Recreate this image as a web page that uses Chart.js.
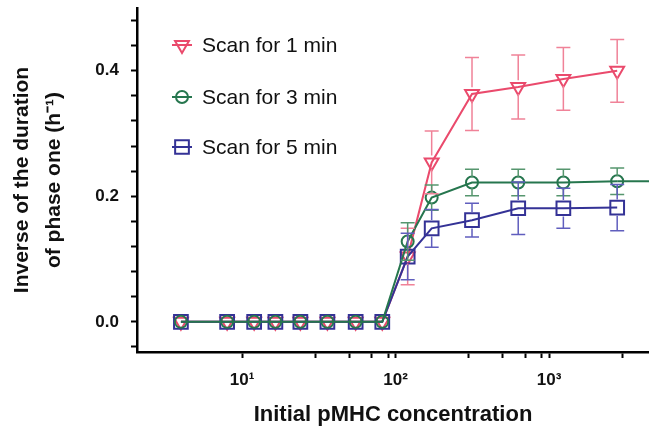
<!DOCTYPE html>
<html>
<head>
<meta charset="utf-8">
<script src="https://cdn.jsdelivr.net/npm/chart.js@4/dist/chart.umd.min.js"></script>
<style>
    html, body { margin: 0; padding: 0; background: #fff; }
    #chart { display: block; }
</style>
</head>
<body>
<canvas id="chart" width="649" height="434"></canvas>
<script>
// Initial pMHC concentration (x, log scale)
const concentrations = [4, 8, 12, 16.5, 24, 36, 55, 82, 120, 172, 315, 630, 1240, 2780];

// Inverse of the duration of phase one (h^-1), with error bars
const scan1min    = [0, 0, 0, 0, 0, 0, 0, 0, 0.104, 0.254, 0.363, 0.374, 0.387, 0.400];
const scan1minErr = [0, 0, 0, 0, 0, 0, 0, 0, 0.045, 0.050, 0.058, 0.051, 0.050, 0.050];
const scan3min    = [0, 0, 0, 0, 0, 0, 0, 0, 0.128, 0.198, 0.222, 0.222, 0.222, 0.224];
const scan3minErr = [0, 0, 0, 0, 0, 0, 0, 0, 0.030, 0.020, 0.021, 0.021, 0.021, 0.021];
const scan5min    = [0, 0, 0, 0, 0, 0, 0, 0, 0.104, 0.149, 0.162, 0.181, 0.181, 0.182];
const scan5minErr = [0, 0, 0, 0, 0, 0, 0, 0, 0.037, 0.030, 0.027, 0.042, 0.032, 0.037];

// green curve keeps going past the last point to the edge of the axis
const scan3minTailX = [2780, 4480];
const scan3minTailY = [0.224, 0.224];

const seriesNames = ['Scan for 1 min', 'Scan for 3 min', 'Scan for 5 min'];

// tick labels
const xMajorTicks = [10, 100, 1000];
const xMajorLabels = ['10¹', '10²', '10³'];
const xMinorTicks = [30, 50, 70, 90, 300, 500, 700, 900, 3000];
const yTicks = [-0.04, 0, 0.04, 0.08, 0.12, 0.16, 0.2, 0.24, 0.28, 0.32, 0.36, 0.4, 0.44, 0.48];
const yLabelTicks = [0, 0.2, 0.4];
const yLabels = ['0.0', '0.2', '0.4'];

const FONT = '"Liberation Sans", Arial, Helvetica, sans-serif';

const colors = {
    red: 'rgb(234, 74, 108)',
    redErr: 'rgb(240, 130, 152)',
    green: 'rgb(38, 118, 78)',
    greenErr: 'rgb(86, 150, 110)',
    blue: 'rgb(52, 50, 150)',
    blueErr: 'rgb(96, 94, 190)'
};

function points(xs, ys) {
    return xs.map((x, i) => ({ x: x, y: ys[i] }));
}

function sameValue(a, b) {
    return Math.abs(a - b) < 1e-9;
}

// marker for the in-plot legend
function drawMarker(ctx, style, x, y, r) {
    ctx.beginPath();
    if (style === 'triangle') {
        // pointing down
        for (let k = 0; k < 3; k++) {
            const a = Math.PI / 2 + k * 2 * Math.PI / 3;
            const px = x + Math.cos(a) * r;
            const py = y + Math.sin(a) * r;
            if (k === 0) ctx.moveTo(px, py); else ctx.lineTo(px, py);
        }
        ctx.closePath();
    } else if (style === 'circle') {
        ctx.arc(x, y, r, 0, Math.PI * 2);
    } else {
        const s = Math.SQRT1_2 * r;
        ctx.rect(x - s, y - s, 2 * s, 2 * s);
    }
    ctx.stroke();
}

const errorBarPlugin = {
    id: 'errorBars',
    afterDatasetsDraw(chart) {
        const ctx = chart.ctx;
        const yScale = chart.scales.y;
        chart.data.datasets.forEach((ds, i) => {
            if (!ds.errors) return;
            const meta = chart.getDatasetMeta(i);
            ctx.save();
            ctx.strokeStyle = ds.errorColor;
            ctx.lineWidth = 1.5;
            meta.data.forEach((pt, j) => {
                const err = ds.errors[j];
                if (!err) return;
                const v = ds.data[j].y;
                const top = yScale.getPixelForValue(v + err);
                const bottom = yScale.getPixelForValue(v - err);
                const gap = ds.pointRadius * 0.85;
                ctx.beginPath();
                ctx.moveTo(pt.x, top);
                ctx.lineTo(pt.x, pt.y - gap);
                ctx.moveTo(pt.x, pt.y + gap);
                ctx.lineTo(pt.x, bottom);
                ctx.moveTo(pt.x - 7, top);
                ctx.lineTo(pt.x + 7, top);
                ctx.moveTo(pt.x - 7, bottom);
                ctx.lineTo(pt.x + 7, bottom);
                ctx.stroke();
            });
            ctx.restore();
        });
    }
};

const legendPlugin = {
    id: 'insideLegend',
    afterDraw(chart) {
        const ctx = chart.ctx;
        const rows = [45, 97, 147];
        ctx.save();
        chart.data.datasets.forEach((ds) => {
            if (ds.legendRow === undefined) return;
            const y = rows[ds.legendRow];
            ctx.strokeStyle = ds.borderColor;
            ctx.lineWidth = 2;
            ctx.beginPath();
            ctx.moveTo(172, y);
            ctx.lineTo(192, y);
            ctx.stroke();
            drawMarker(ctx, ds.pointStyle, 182, y, ds.pointRadius);
            ctx.fillStyle = '#111';
            ctx.font = '21px ' + FONT;
            ctx.textBaseline = 'middle';
            ctx.textAlign = 'left';
            ctx.fillText(ds.label, 202, y + 1);
        });
        ctx.restore();
    }
};

function makeDataset(label, ys, errs, color, errColor, style, radius, row, order) {
    return {
        label: label,
        data: points(concentrations, ys),
        errors: errs,
        errorColor: errColor,
        legendRow: row,
        showLine: true,
        borderColor: color,
        borderWidth: 2,
        backgroundColor: 'transparent',
        pointBackgroundColor: 'transparent',
        pointBorderColor: color,
        pointBorderWidth: 2,
        pointStyle: style,
        pointRadius: radius,
        pointRotation: style === 'triangle' ? 180 : 0,
        order: order
    };
}

const datasets = [
    makeDataset(seriesNames[0], scan1min, scan1minErr, colors.red, colors.redErr, 'triangle', 8, 0, 2),
    makeDataset(seriesNames[1], scan3min, scan3minErr, colors.green, colors.greenErr, 'circle', 6, 1, 0),
    makeDataset(seriesNames[2], scan5min, scan5minErr, colors.blue, colors.blueErr, 'rect', 9.7, 2, 1),
    {
        label: 'tail',
        data: points(scan3minTailX, scan3minTailY),
        showLine: true,
        borderColor: colors.green,
        borderWidth: 2,
        pointRadius: 0,
        order: 0
    }
];

const chart = new Chart(document.getElementById('chart').getContext('2d'), {
    type: 'scatter',
    data: { datasets: datasets },
    plugins: [errorBarPlugin, legendPlugin],
    options: {
        responsive: false,
        animation: false,
        devicePixelRatio: 1,
        layout: { autoPadding: false, padding: { top: 8, left: 0, right: 0, bottom: 0 } },
        plugins: {
            legend: { display: false },
            tooltip: { enabled: false }
        },
        scales: {
            x: {
                type: 'logarithmic',
                position: 'bottom',
                min: 2.07,
                max: 4480,
                border: { display: true, color: '#000', width: 2.5 },
                grid: {
                    drawOnChartArea: false,
                    drawTicks: true,
                    tickLength: 6,
                    tickWidth: 2,
                    tickColor: '#000',
                    color: '#000'
                },
                afterBuildTicks(scale) {
                    scale.ticks = xMajorTicks.concat(xMinorTicks)
                        .sort((a, b) => a - b)
                        .map(v => ({ value: v, major: xMajorTicks.includes(v) }));
                },
                ticks: {
                    autoSkip: false,
                    maxRotation: 0,
                    padding: 12,
                    color: '#111',
                    font: { family: FONT, size: 17, weight: 'bold' },
                    callback(value) {
                        const k = xMajorTicks.indexOf(value);
                        return k >= 0 ? xMajorLabels[k] : '';
                    }
                },
                title: {
                    display: true,
                    text: 'Initial pMHC concentration',
                    color: '#111',
                    font: { family: FONT, size: 22, weight: 'bold' },
                    padding: { top: 0, bottom: 6 }
                },
                afterFit(scale) {
                    scale.height = 82;
                    scale.paddingLeft = 0;
                    scale.paddingRight = 0;
                }
            },
            y: {
                type: 'linear',
                min: -0.048,
                max: 0.5,
                border: { display: true, color: '#000', width: 2.5 },
                grid: {
                    drawOnChartArea: false,
                    drawTicks: true,
                    tickLength: 6,
                    tickWidth: 2,
                    tickColor: '#000',
                    color: '#000'
                },
                afterBuildTicks(scale) {
                    scale.ticks = yTicks.map(v => ({ value: v }));
                },
                ticks: {
                    autoSkip: false,
                    padding: 12,
                    color: '#111',
                    font: { family: FONT, size: 17, weight: 'bold' },
                    callback(value) {
                        const k = yLabelTicks.findIndex(t => sameValue(t, value));
                        return k >= 0 ? yLabels[k] : '';
                    }
                },
                title: {
                    display: true,
                    text: ['Inverse of the duration', 'of phase one (h⁻¹)'],
                    color: '#111',
                    font: { family: FONT, size: 21, weight: 'bold', lineHeight: 1.52 },
                    padding: { top: 6, bottom: 0 }
                },
                afterFit(scale) {
                    scale.width = 137;
                    scale.paddingTop = 0;
                    scale.paddingBottom = 0;
                }
            }
        }
    }
});
</script>
</body>
</html>
